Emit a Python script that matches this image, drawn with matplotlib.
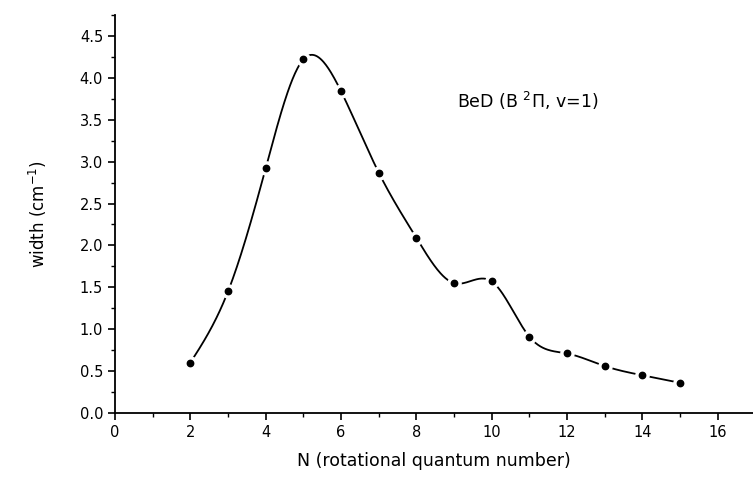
import matplotlib.pyplot as plt
import numpy as np
from matplotlib.ticker import MultipleLocator

# datos: ancho de linea vs N
N = [2, 3, 4, 5, 6, 7, 8, 9, 10, 11, 12, 13, 14, 15]
width = [0.60, 1.45, 2.92, 4.22, 3.84, 2.87, 2.09, 1.55, 1.57, 0.91, 0.71, 0.56, 0.45, 0.36]


def spline_natural(x, y, xs):
    # spline cubico natural para la linea suave que une los puntos
    x = np.asarray(x, float)
    y = np.asarray(y, float)
    n = len(x)
    h = np.diff(x)
    A = np.zeros((n, n))
    b = np.zeros(n)
    A[0, 0] = A[-1, -1] = 1
    for i in range(1, n - 1):
        A[i, i - 1] = h[i - 1]
        A[i, i] = 2 * (h[i - 1] + h[i])
        A[i, i + 1] = h[i]
        b[i] = 6 * ((y[i + 1] - y[i]) / h[i] - (y[i] - y[i - 1]) / h[i - 1])
    M = np.linalg.solve(A, b)
    k = np.clip(np.searchsorted(x, xs) - 1, 0, n - 2)
    t = xs - x[k]
    hk = h[k]
    a = (M[k + 1] - M[k]) / (6 * hk)
    bb = M[k] / 2
    c = (y[k + 1] - y[k]) / hk - hk * (2 * M[k] + M[k + 1]) / 6
    return y[k] + c * t + bb * t ** 2 + a * t ** 3


fig = plt.figure(figsize=(7.53, 4.82), dpi=100)
ax = fig.add_axes([0.1527, 0.1432, 0.847, 0.8257])

xs = np.linspace(N[0], N[-1], 600)
ax.plot(xs, spline_natural(N, width, xs), color="black", lw=1.3, zorder=2)
# hueco blanco alrededor de los simbolos
ax.plot(N, width, linestyle="none", marker="o", ms=9.5, color="white", zorder=3)
ax.plot(N, width, linestyle="none", marker="o", ms=4.6, color="black", zorder=4)

ax.set_xlim(0, 16.93)
ax.set_ylim(0, 4.75)
ax.xaxis.set_major_locator(MultipleLocator(2))
ax.xaxis.set_minor_locator(MultipleLocator(1))
ax.yaxis.set_major_locator(MultipleLocator(0.5))
ax.yaxis.set_minor_locator(MultipleLocator(0.25))
ax.yaxis.set_major_formatter(plt.FormatStrFormatter("%.1f"))

for s in ["top", "right"]:
    ax.spines[s].set_visible(False)
for s in ["left", "bottom"]:
    ax.spines[s].set_linewidth(1.3)
ax.tick_params(which="major", direction="out", length=5, width=1.2, labelsize=10.5)
ax.tick_params(which="minor", direction="out", length=3, width=1.0)

ax.set_xlabel("N (rotational quantum number)", fontsize=12.5, labelpad=9)
ax.set_ylabel("width (cm$^{-1}$)", fontsize=12, labelpad=22)
ax.text(0.607, 0.775, r"BeD (B $^{2}\Pi$, v=1)", transform=fig.transFigure, fontsize=12.5)

fig.savefig("out.png", dpi=100)
